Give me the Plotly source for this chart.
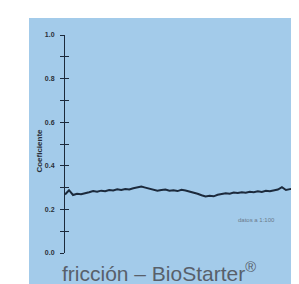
import plotly.graph_objects as go

# data
time_idx = list(range(59))
friction = [0.268, 0.288, 0.266, 0.272, 0.270, 0.276, 0.279, 0.284, 0.281, 0.286,
            0.283, 0.289, 0.287, 0.292, 0.289, 0.294, 0.291, 0.297, 0.301, 0.305,
            0.300, 0.296, 0.290, 0.286, 0.289, 0.291, 0.286, 0.288, 0.284, 0.290,
            0.287, 0.283, 0.279, 0.272, 0.265, 0.259, 0.262, 0.260, 0.267, 0.271,
            0.274, 0.272, 0.277, 0.275, 0.279, 0.276, 0.281, 0.279, 0.283, 0.280,
            0.285, 0.283, 0.287, 0.291, 0.302, 0.289, 0.293, 0.296, 0.295]
label_vals = [0.0, 0.2, 0.4, 0.6, 0.8, 1.0]
label_text = ["0.0", "0.2", "0.4", "0.6", "0.8", "1.0"]
tick_step = 0.1
title_text = "fricción – BioStarter<sup>®</sup>"
y_title = "Coeficiente"
note_text = "datos a 1:100"

BLUE = "#a3cbea"
DARK = "#1c2a3c"

fig = go.Figure()
fig.add_trace(go.Scatter(x=time_idx, y=friction, mode="lines",
                         line=dict(color=DARK, width=2), showlegend=False,
                         hoverinfo="skip"))
fig.add_trace(go.Scatter(x=[time_idx[0]], y=[friction[0]], yaxis="y2",
                         mode="markers", marker=dict(opacity=0), showlegend=False,
                         hoverinfo="skip"))

fig.update_layout(
    width=299, height=284,
    margin=dict(l=57, r=6, t=27, b=39),
    paper_bgcolor="white",
    plot_bgcolor="rgba(0,0,0,0)",
    xaxis=dict(visible=False, range=[0, (len(time_idx) - 1) * 236 / 233]),
    yaxis=dict(range=[0, 1], tickvals=label_vals, ticktext=label_text,
               ticks="outside", ticklen=4, tickwidth=1, tickcolor=DARK,
               minor=dict(dtick=tick_step, tick0=0, ticks="outside", ticklen=4,
                          tickwidth=1, tickcolor=DARK, showgrid=False),
               showline=True, linecolor=DARK, linewidth=1,
               showgrid=False, zeroline=False, ticklabelstandoff=4,
               tickfont=dict(size=7, color="#2a2f38", family="Liberation Sans",
                             weight="bold")),
    yaxis2=dict(range=[0, 1], overlaying="y", side="left", anchor="x",
                dtick=tick_step, tick0=0, ticks="inside", ticklen=4, tickwidth=1,
                tickcolor=DARK, showticklabels=False, showline=False,
                showgrid=False, zeroline=False),
    shapes=[dict(type="rect", xref="paper", yref="paper",
                 x0=-0.1525, x1=1.0, y0=-0.25, y1=1.078,
                 fillcolor=BLUE, line=dict(width=0), layer="below")],
    annotations=[
        dict(text=title_text, xref="paper", yref="paper", x=0.40, y=-0.085,
             xanchor="center", yanchor="middle", showarrow=False,
             font=dict(size=21, color="#58606a", family="Liberation Sans")),
        dict(text=y_title, xref="paper", yref="paper", x=-0.11, y=0.47,
             textangle=-90, xanchor="center", yanchor="middle", showarrow=False,
             font=dict(size=8, color="#2a2f38", family="Liberation Sans",
                       weight="bold")),
        dict(text=note_text, xref="paper", yref="paper", x=0.81, y=0.151,
             xanchor="center", yanchor="middle", showarrow=False,
             font=dict(size=6, color="#6a7a8a", family="Liberation Sans")),
    ],
)

fig.write_html("out.html")
